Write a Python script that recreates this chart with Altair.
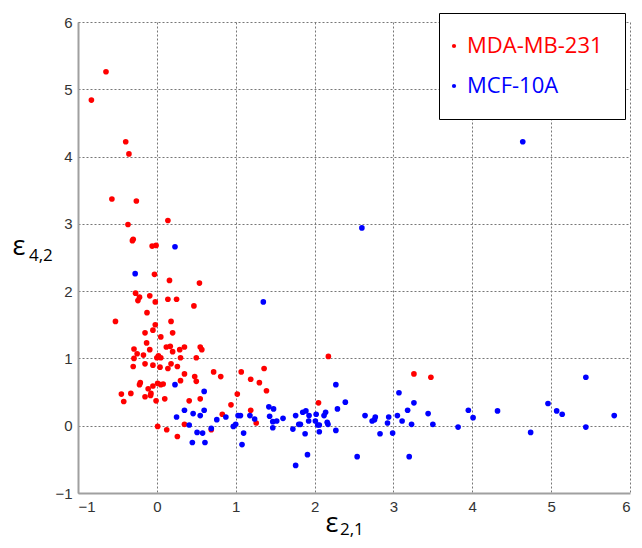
import altair as alt
import pandas as pd

series_names = ["MDA-MB-231", "MCF-10A"]
series_colors = ["#ff0000", "#0000ff"]

red_x = [-0.645, -0.83, -0.395, -0.354, -0.57, -0.26, -0.366, 0.14, -0.31, -0.30, -0.06, -0.01,
         -0.03, 0.16, 0.54, -0.27, -0.22, -0.24, -0.09, -0.02, 0.14, 0.25, 0.47, -0.125, -0.525,
         -0.02, 0.18, -0.05, -0.15, 0.20, 0.05, -0.13, 0.12, 0.17, 0.35, -0.29, -0.09, 0.29, 0.55,
         0.57, -0.25, -0.17, 0.20, 0.0, 0.05, 0.02, -0.29, 0.30, 0.50, -0.15, -0.05, 0.04, 0.18,
         -0.30, 0.14, 0.26, 0.35, 0.48, 0.50, 0.30, 0.72, 0.81, 1.07, -0.21, -0.22, 0.01, 0.08,
         0.05, -0.05, -0.11, -0.075, -0.08, -0.15, -0.45, -0.33, -0.42, -0.01, 0.10, 0.41, 0.55,
         1.02, 0.94, 0.83, 0.35, 0.01, 0.125, 0.26, 0.69,
         2.175, 1.36, 1.19, 1.30, 1.39, 1.19, 1.26, 2.05, 3.26, 3.475]
red_y = [5.26, 4.84, 4.22, 4.04, 3.37, 3.34, 2.99, 3.05, 2.75, 2.77, 2.67, 2.68,
         2.25, 2.16, 2.12, 1.97, 1.91, 1.86, 1.93, 1.84, 1.88, 1.88, 1.78, 1.68, 1.55,
         1.50, 1.55, 1.42, 1.38, 1.38, 1.32, 1.23, 1.17, 1.18, 1.17, 1.14, 1.13, 1.13, 1.17,
         1.13, 1.07, 1.05, 1.10, 1.01, 1.01, 1.04, 1.00, 1.01, 1.01, 0.92, 0.90, 0.87, 0.92,
         0.88, 0.85, 0.88, 0.77, 0.73, 0.66, 0.67, 0.80, 0.73, 0.80, 0.64, 0.61, 0.63, 0.62,
         0.61, 0.59, 0.55, 0.48, 0.45, 0.43, 0.47, 0.48, 0.36, 0.37, 0.40, 0.37, 0.40,
         0.47, 0.31, 0.17, 0.02, -0.01, -0.06, -0.16, -0.06,
         1.03, 0.85, 0.69, 0.64, 0.52, 0.23, 0.04, 0.34, 0.77, 0.72]

blue_x = [0.23, -0.275, 1.35, 2.60, 4.64,
          0.23, 0.60, 0.35, 0.60, 0.46, 0.55, 0.25, 0.41, 0.76, 0.875, 1.03, 1.06, 1.18, 1.24,
          0.97, 1.0, 0.69, 0.51, 0.58, 1.10, 0.45, 0.61, 1.08,
          2.27, 2.39, 2.29, 1.42, 1.48, 1.43, 1.47, 1.52, 1.47, 1.60, 1.76, 1.80, 1.82, 1.85,
          1.89, 1.93, 1.925, 2.02, 2.01, 2.04, 2.06, 2.12, 2.14, 2.16, 2.17, 1.725, 1.88, 2.06,
          2.27, 1.91, 1.76, 2.54, 2.64, 2.73, 2.77, 2.76, 2.94, 2.925, 2.83, 2.99, 3.05, 3.07,
          3.11, 3.18, 3.26, 3.23, 3.44, 3.50, 3.20,
          3.82, 3.95, 4.01, 4.32, 4.74, 4.96, 5.07, 5.14, 5.44, 5.44, 5.80]
blue_y = [2.66, 2.26, 1.84, 2.94, 4.22,
          0.61, 0.51, 0.23, 0.23, 0.18, 0.15, 0.13, 0.01, 0.09, 0.13, 0.15, 0.15, 0.15, 0.10,
          -0.01, 0.02, -0.04, -0.10, -0.11, -0.11, -0.25, -0.25, -0.28,
          0.61, 0.35, 0.25, 0.28, 0.25, 0.14, 0.06, 0.07, -0.03, 0.11, 0.15, 0.02, 0.02, 0.20,
          0.22, 0.15, 0.07, 0.17, 0.07, 0.01, 0.01, 0.15, 0.20, 0.05, 0.02, -0.05, -0.12, -0.09,
          -0.07, -0.43, -0.59, -0.46, 0.15, 0.07, 0.13, 0.09, 0.13, 0.04, -0.12, -0.11, 0.15, 0.49,
          0.07, 0.23, 0.34, 0.02, 0.18, 0.02, -0.46,
          -0.02, 0.23, 0.12, 0.22, -0.10, 0.33, 0.22, 0.17, 0.72, -0.02, 0.15]

tick_values = [-1, 0, 1, 2, 3, 4, 5, 6]

df = pd.DataFrame({
    "x": red_x + blue_x,
    "y": red_y + blue_y,
    "series": [series_names[0]] * len(red_x) + [series_names[1]] * len(blue_x),
})

W, H = 552, 471

points = alt.Chart(df).mark_circle(size=32, opacity=1).encode(
    x=alt.X("x:Q", scale=alt.Scale(domain=[-1, 6], nice=False, zero=False),
            axis=alt.Axis(values=tick_values, title=None, format="d")),
    y=alt.Y("y:Q", scale=alt.Scale(domain=[-1, 6], nice=False, zero=False),
            axis=alt.Axis(values=tick_values, title=None, format="d")),
    color=alt.Color("series:N",
                    scale=alt.Scale(domain=series_names, range=series_colors),
                    legend=alt.Legend(
                        title=None, orient="none", legendX=361, legendY=-9,
                        symbolType="circle", symbolSize=18, symbolStrokeWidth=0,
                        symbolOffset={"expr": "-18"},
                        labelFontSize=22, labelFont="Open Sans", labelOffset=2,
                        rowPadding=18, padding=22, strokeColor="black",
                        fillColor="white", labelLimit=400,
                        labelColor={"expr": "scale('color', datum.value)"},
                    )),
)

def label(txt, x, y, size, align):
    return alt.Chart(pd.DataFrame({"t": [txt]})).mark_text(
        font="Open Sans", fontSize=size, align=align, baseline="middle", color="black"
    ).encode(text="t:N", x=alt.value(x), y=alt.value(y))

xlab = label("ε", 254, 502, 27, "center") + label("2,1", 262, 508, 17, "left")
ylab = label("ε", -59, 225, 27, "center") + label("4,2", -49, 234, 17, "left")

chart = alt.layer(points, xlab, ylab).properties(
    width=W, height=H,
    autosize=alt.AutoSizeParams(type="none"),
    padding={"left": 70, "top": 14, "right": 4, "bottom": 47},
).configure_view(stroke=None).configure_axis(
    domainColor="#a0a0a0", domainWidth=2, ticks=False,
    grid=True, gridColor="#777777", gridDash=[2, 2], gridWidth=1, gridOpacity=1,
    labelFont="Liberation Sans", labelFontSize=15, labelColor="#333333", labelPadding=6,
)

chart.save("out.html", embed_options={"renderer": "svg", "actions": False})
